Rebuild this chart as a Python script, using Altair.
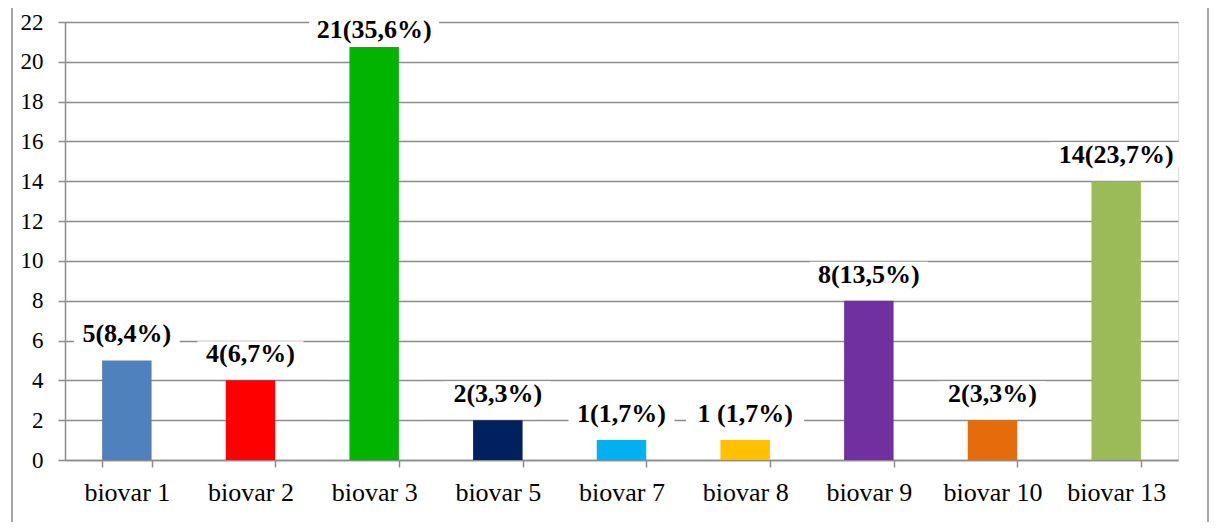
import altair as alt
import pandas as pd

categories = ["biovar 1", "biovar 2", "biovar 3", "biovar 5", "biovar 7",
              "biovar 8", "biovar 9", "biovar 10", "biovar 13"]
counts = [5, 4, 20.75, 2, 1, 1, 8, 2, 14]
labels = ["5(8,4%)", "4(6,7%)", "21(35,6%)", "2(3,3%)", "1(1,7%)",
          "1 (1,7%)", "8(13,5%)", "2(3,3%)", "14(23,7%)"]
colors = ["#4f81bd", "#ff0000", "#00b400", "#002060", "#00b0f0",
          "#ffc000", "#7030a0", "#e46c0a", "#9bbb59"]
y_ticks = list(range(0, 23, 2))

df = pd.DataFrame({"cat": categories, "n": counts, "label": labels})

FONT = "Liberation Serif, Times New Roman, Times, serif"
GRID = "#8c8c8c"

x = alt.X("cat:N", sort=categories, title=None,
          scale=alt.Scale(paddingInner=0.6, paddingOuter=0.3),
          axis=alt.Axis(labelAngle=0, tickBand="extent", tickSize=7,
                        tickColor=GRID, tickWidth=1.5, domainColor=GRID,
                        domainWidth=1.5, labelFont=FONT, labelFontSize=26,
                        labelColor="black", labelPadding=12, grid=False))
y_axis = alt.Axis(values=y_ticks, tickSize=7, tickColor=GRID,
                  tickWidth=1.5, domainColor=GRID, domainWidth=1.5,
                  grid=True, gridColor=GRID, gridWidth=1.5,
                  gridOpacity=1, labelOverlap=False,
                  labelFont=FONT, labelFontSize=23, labelColor="black",
                  labelPadding=15)
y_scale = alt.Scale(domain=[0, 22], nice=False)
y = alt.Y("n:Q", title=None, scale=y_scale, axis=y_axis)

base = alt.Chart(df)

bars = base.mark_bar().encode(
    x=x, y=y,
    color=alt.Color("cat:N", scale=alt.Scale(domain=categories, range=colors),
                    legend=None),
)

lbl = base.transform_calculate(
    ly="min(datum.n, 20.3)",
    by1="min(datum.n, 20.3) + 0.7",
    by2="min(datum.n, 20.3) + 1.96",
    bw="length(datum.label) * 12 + 22",
)

label_box = lbl.mark_bar(color="white").encode(
    x=x,
    y=alt.Y("by1:Q", title=None, scale=y_scale, axis=y_axis),
    y2="by2:Q",
    size=alt.Size("bw:Q", scale=None, legend=None),
)

text = lbl.mark_text(
    font=FONT, fontSize=26, fontWeight="bold",
    baseline="alphabetic", dy=-18, color="black").encode(
    x=x, y=alt.Y("ly:Q", title=None, scale=y_scale, axis=y_axis),
    text="label:N")

one = alt.Data(values=[{"k": 1}])
frame_left = alt.Chart(one).mark_rule(color="#a6a6a6", strokeWidth=2).encode(
    x=alt.value(-53), y=alt.value(-14), y2=alt.value(500))
frame_right = alt.Chart(one).mark_rule(color="#a6a6a6", strokeWidth=2).encode(
    x=alt.value(1143), y=alt.value(-14), y2=alt.value(500))

chart = alt.layer(frame_left, frame_right, label_box, bars, text).properties(
    width=1113, height=438,
    padding={"left": 57, "top": 14, "right": 33, "bottom": 62},
    autosize=alt.AutoSizeParams(type="none"),
).configure_view(stroke=None).configure(background="white")

chart.save("out.html", embed_options={"renderer": "svg", "actions": False})
